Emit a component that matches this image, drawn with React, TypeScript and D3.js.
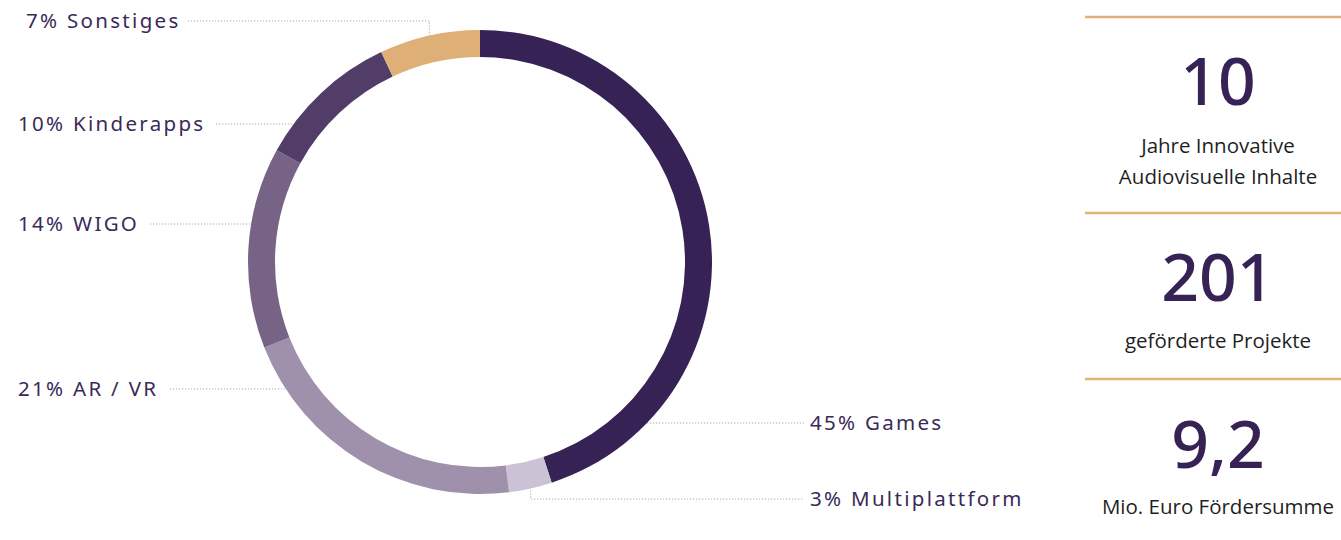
import { useEffect } from "react"
import * as d3 from "d3"

// Chart data
const categories = ["Games", "Multiplattform", "AR / VR", "WIGO", "Kinderapps", "Sonstiges"]
const shares = [45, 3, 21, 14, 10, 7]
const colors = ["#372256", "#cbc3d5", "#9f90ab", "#766386", "#523c68", "#deaf76"]

const statValues = ["10", "201", "9,2"]
const statLabels = [["Jahre Innovative", "Audiovisuelle Inhalte"], ["geförderte Projekte"], ["Mio. Euro Fördersumme"]]

const width = 1341
const height = 540
const cx = 480
const cy = 262
const outerR = 232
const innerR = 205

// label placement; lineStart = x where the dotted leader begins (left labels)
const labelLayout: Record<string, { side: "left" | "right"; x: number; y: number; lineStart?: number; elbow?: boolean }> = {
  Games: { side: "right", x: 810, y: 423 },
  Multiplattform: { side: "right", x: 810, y: 499, elbow: true },
  "AR / VR": { side: "left", x: 18, y: 389, lineStart: 170 },
  WIGO: { side: "left", x: 18, y: 224, lineStart: 150 },
  Kinderapps: { side: "left", x: 18, y: 124, lineStart: 216 },
  Sonstiges: { side: "left", x: 26, y: 21, lineStart: 188, elbow: true },
}

const textColor = "#3a2a58"
const labelFont = "'Noto Sans', sans-serif"

export default function App() {
  useEffect(() => {
    document.body.style.margin = "0"
  }, [])

  const pie = d3.pie<number>().sort(null).value((d) => d)
  const arcs = pie(shares)
  const arc = d3.arc<d3.PieArcDatum<number>>().innerRadius(innerR).outerRadius(outerR)

  const labels = arcs.map((a, i) => {
    const name = categories[i]
    const lay = labelLayout[name]
    const mid = (a.startAngle + a.endAngle) / 2
    const ax = cx + outerR * Math.sin(mid)
    const ay = cy - outerR * Math.cos(mid)
    const dy = lay.y - cy
    const dx = Math.sqrt(outerR * outerR - dy * dy)
    let d = ""
    if (lay.side === "left") {
      d = lay.elbow ? `M${lay.lineStart},${lay.y}H${ax}V${ay}` : `M${lay.lineStart},${lay.y}H${cx - dx}`
    } else {
      d = lay.elbow ? `M${ax},${ay + 2}V${lay.y}H${lay.x - 6}` : `M${cx + dx},${lay.y}H${lay.x - 6}`
    }
    return { name, pct: shares[i], lay, d }
  })

  const statTop = [17, 213, 379]
  const statNumY = [105, 301, 468]
  const statSubY = [153, 348, 514]

  return (
    <svg width={width} height={height} style={{ display: "block", background: "#fff" }}>
      {/* leader lines */}
      {labels.map((l) => (
        <path key={"ll" + l.name} d={l.d} fill="none" stroke="#a8a8a8" strokeWidth={1} strokeDasharray="1.2,1.8" />
      ))}

      {/* donut */}
      <g transform={`translate(${cx},${cy})`}>
        {arcs.map((a, i) => (
          <path key={categories[i]} d={arc(a) || ""} fill={colors[i]} />
        ))}
      </g>

      {/* labels */}
      {labels.map((l) => (
        <text
          key={"t" + l.name}
          x={l.lay.x}
          y={l.lay.y}
          dy="0.35em"
          fill={textColor}
          fontFamily={labelFont}
          fontSize={20.5}
          fontWeight={400}
          letterSpacing={2.3}
        >
          {`${l.pct}% ${l.name}`}
        </text>
      ))}

      {/* key figures */}
      {statValues.map((v, i) => (
        <g key={"s" + i}>
          <line x1={1085} x2={width} y1={statTop[i]} y2={statTop[i]} stroke="#e3b077" strokeWidth={2.5} />
          <text
            x={1218}
            y={statNumY[i]}
            textAnchor="middle"
            fill="#372256"
            fontFamily="'Noto Sans', sans-serif"
            fontSize={66}
            fontWeight={500}
          >
            {v}
          </text>
          {statLabels[i].map((s, j) => (
            <text
              key={j}
              x={1218}
              y={statSubY[i] + j * 31}
              textAnchor="middle"
              fill="#1f1f1f"
              fontFamily="'Open Sans', sans-serif"
              fontSize={20.5}
            >
              {s}
            </text>
          ))}
        </g>
      ))}
    </svg>
  )
}
